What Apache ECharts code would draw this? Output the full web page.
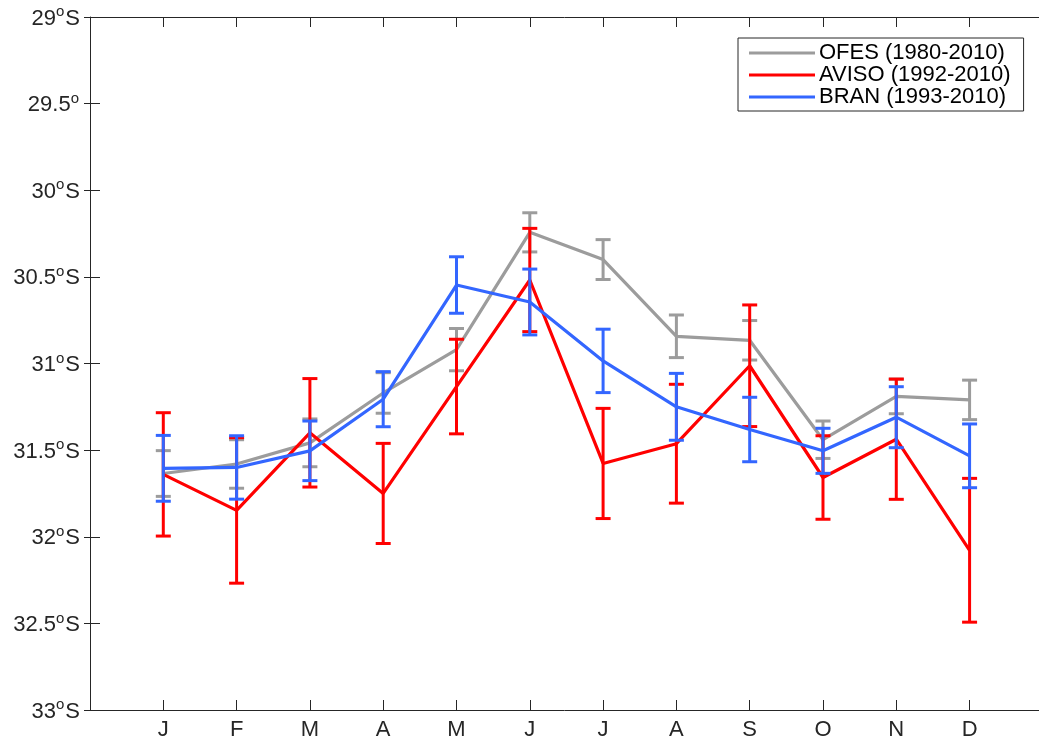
<!DOCTYPE html>
<html>
<head>
<meta charset="utf-8">
<script src="https://cdn.jsdelivr.net/npm/echarts@6/dist/echarts.min.js"></script>
<style>
html,body{margin:0;padding:0;background:#fff;}
#chart{width:1039px;height:742px;}
</style>
</head>
<body>
<div id="chart"></div>
<script>
// ---- data ----
const months = ['J','F','M','A','M','J','J','A','S','O','N','D'];
const yTickLabels = ['29°S','29.5°','30°S','30.5°S','31°S','31.5°S','32°S','32.5°S','33°S'];
const seriesNames = ['OFES (1980-2010)','AVISO (1992-2010)','BRAN (1993-2010)'];
const ofesMean = [31.635, 31.58, 31.458, 31.17, 30.92, 30.243, 30.40, 30.843, 30.866, 31.44, 31.19, 31.21];
const ofesErr  = [0.132, 0.14, 0.138, 0.117, 0.122, 0.113, 0.115, 0.123, 0.114, 0.108, 0.10, 0.114];
const avisoMean = [31.64, 31.848, 31.40, 31.75, 31.133, 30.518, 31.577, 31.463, 31.013, 31.658, 31.437, 32.078];
const avisoErr  = [0.356, 0.42, 0.313, 0.289, 0.273, 0.298, 0.318, 0.343, 0.351, 0.241, 0.347, 0.415];
const branMean = [31.605, 31.60, 31.504, 31.206, 30.547, 30.645, 30.985, 31.25, 31.381, 31.504, 31.31, 31.533];
const branErr  = [0.19, 0.183, 0.172, 0.159, 0.163, 0.19, 0.183, 0.193, 0.186, 0.13, 0.176, 0.184];
const colors = ['#9c9c9c', '#ff0000', '#3366ff'];

// ---- build ----
const FONT = 'Liberation Sans, Arial, Helvetica, sans-serif';
const AX = '#262626';
const X_MAX = 12.947; // visible part of the month axis (plot is cropped at right)

function lineData(mean){ return mean.map((m,i)=>[i+1, m]); }
function errData(mean, err){ return mean.map((m,i)=>[i+1, m-err[i], m+err[i]]); }

function errSeries(name, mean, err, color, z){
  return {
    type: 'custom', name: name, z: z, silent: true,
    xAxisIndex: 0, yAxisIndex: 0,
    data: errData(mean, err),
    renderItem: function(params, api){
      const x = api.value(0);
      const lo = api.coord([x, api.value(1)]);
      const hi = api.coord([x, api.value(2)]);
      const hw = 7.5;
      const st = {stroke: color, lineWidth: 3, fill: null};
      return {type:'group', children:[
        {type:'line', shape:{x1:lo[0], y1:lo[1], x2:hi[0], y2:hi[1]}, style: st},
        {type:'line', shape:{x1:lo[0]-hw, y1:lo[1], x2:lo[0]+hw, y2:lo[1]}, style: st},
        {type:'line', shape:{x1:hi[0]-hw, y1:hi[1], x2:hi[0]+hw, y2:hi[1]}, style: st}
      ]};
    }
  };
}
function lineSeries(name, mean, color, z){
  return {
    type:'line', name:name, z:z, data: lineData(mean),
    xAxisIndex:0, yAxisIndex:0,
    symbol:'none', lineStyle:{color:color, width:3.2}, itemStyle:{color:color},
    silent:true
  };
}

function yLabel(v){
  const idx = Math.round((v-29)/0.5);
  const t = yTickLabels[idx];
  if (t === undefined) return '';
  const parts = t.split('°');
  return '{a|' + parts[0] + '}{s|o}' + (parts[1] ? '{a|' + parts[1] + '}' : '');
}

const chart = echarts.init(document.getElementById('chart'), null, {renderer:'canvas'});
chart.setOption({
  animation: false,
  backgroundColor: '#fff',
  grid: {left: 90, top: 17, width: 949, height: 693, containLabel: false},
  legend: {
    orient: 'vertical', left: 738, top: 38,
    data: seriesNames,
    icon: 'rect', itemWidth: 66, itemHeight: 3, itemGap: 0,
    padding: [4, 13, 3, 11],
    borderColor: '#262626', borderWidth: 1, backgroundColor: '#fff',
    textStyle: {fontFamily: FONT, fontSize: 22, color: '#000', lineHeight: 22, padding: [0,0,0,-1]}
  },
  xAxis: [{
    type:'value', min:0, max:X_MAX, interval:1, position:'bottom',
    axisLine:{show:true, lineStyle:{color:AX, width:1}},
    axisTick:{show:true, inside:true, length:10, lineStyle:{color:AX}},
    splitLine:{show:false},
    axisLabel:{margin:9, fontFamily:FONT, fontSize:22, color:'#262626', showMaxLabel:false,
      formatter: v => (v>=1 && v<=12) ? months[v-1] : ''}
  },{
    type:'value', min:0, max:X_MAX, interval:1, position:'top',
    axisLine:{show:true, lineStyle:{color:AX, width:1}},
    axisTick:{show:true, inside:true, length:10, lineStyle:{color:AX}},
    splitLine:{show:false}, axisLabel:{show:false}
  }],
  yAxis: [{
    type:'value', inverse:true, min:29, max:33, interval:0.5, position:'left',
    axisLine:{show:true, lineStyle:{color:AX, width:1}},
    axisTick:{show:true, inside:true, length:10, lineStyle:{color:AX}},
    splitLine:{show:false},
    axisLabel:{margin:10, formatter: yLabel,
      rich:{
        a:{fontFamily:FONT, fontSize:22, color:'#262626', lineHeight:25, verticalAlign:'bottom'},
        s:{fontFamily:FONT, fontSize:15, color:'#262626', lineHeight:25, verticalAlign:'top', padding:[0,1,0,0]}
      }}
  },{
    type:'value', inverse:true, min:29, max:33, interval:0.5, position:'right',
    axisLine:{show:false},
    axisTick:{show:true, inside:true, length:6, lineStyle:{color:AX}},
    splitLine:{show:false}, axisLabel:{show:false}
  }],
  series: [
    lineSeries(seriesNames[0], ofesMean, colors[0], 2),
    errSeries(seriesNames[0], ofesMean, ofesErr, colors[0], 2),
    lineSeries(seriesNames[1], avisoMean, colors[1], 3),
    errSeries(seriesNames[1], avisoMean, avisoErr, colors[1], 3),
    lineSeries(seriesNames[2], branMean, colors[2], 4),
    errSeries(seriesNames[2], branMean, branErr, colors[2], 4)
  ]
});
</script>
</body>
</html>
